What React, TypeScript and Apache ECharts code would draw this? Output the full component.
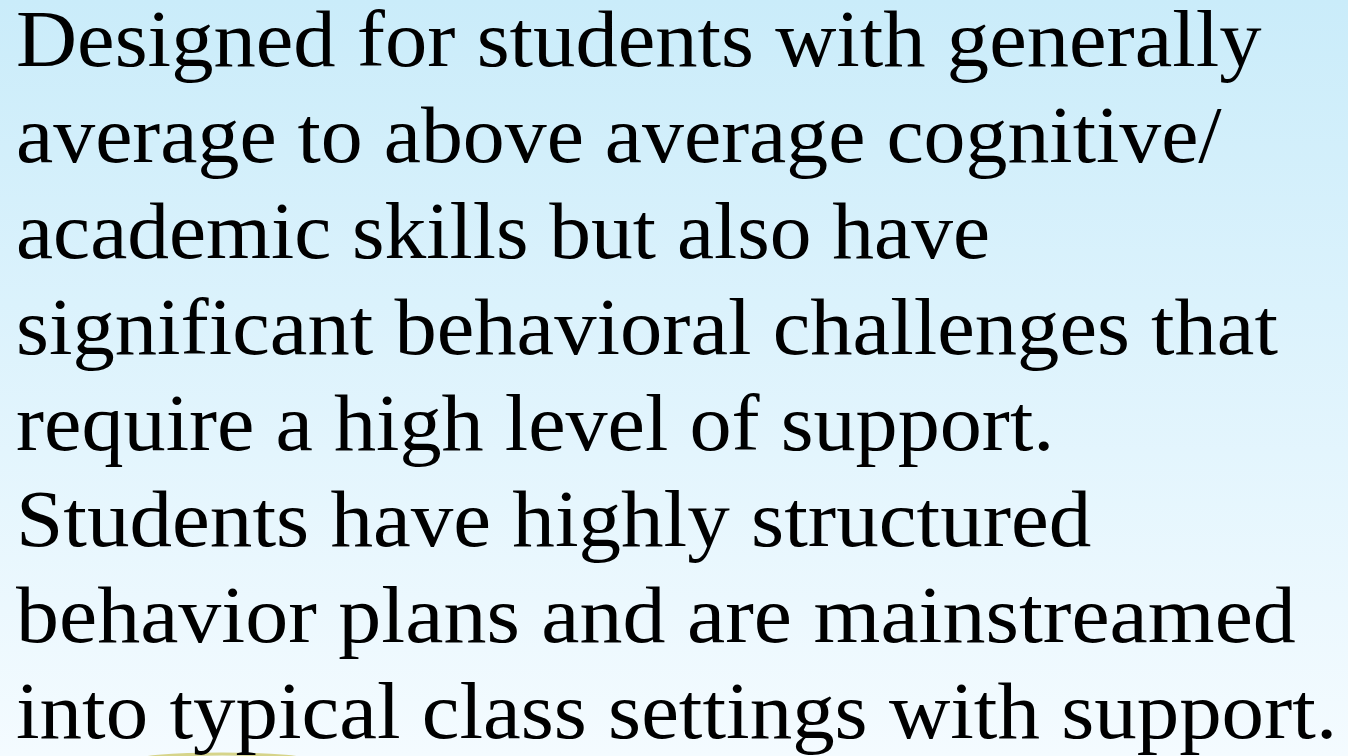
import React, { useEffect, useRef } from "react";
import * as echarts from "echarts";

const lines: string[] = [
  "Designed for students with generally",
  "average to above average cognitive/",
  "academic skills but also have",
  "significant behavioral challenges that",
  "require a high level of support.",
  "Students have highly structured",
  "behavior plans and are mainstreamed",
  "into typical class settings with support.",
];

// right edges of each line as seen in the reference (layout, not data)
const lineRightEdges: number[] = [1262, 1222, 990, 1278, 1055, 1092, 1296, 1338];

const FONT_FAMILY = "'Liberation Serif'";
const FONT_SIZE = 80;
const LEFT = 16;
const FIRST_BASELINE = 67;
const LINE_STEP = 96;

export default function App() {
  const ref = useRef<HTMLDivElement>(null);
  useEffect(() => {
    if (!ref.current) return;
    const chart = echarts.init(ref.current, undefined, { renderer: "svg" });
    const canvas = document.createElement("canvas");
    const ctx = canvas.getContext("2d")!;
    ctx.font = `${FONT_SIZE}px ${FONT_FAMILY}`;
    const texts = lines.map((t, i) => {
      const w = ctx.measureText(t).width || 1;
      const target = lineRightEdges[i] - LEFT;
      return {
        type: "text",
        x: LEFT,
        y: FIRST_BASELINE + i * LINE_STEP - 28,
        scaleX: target / w,
        style: {
          text: t,
          fill: "#000000",
          font: `${FONT_SIZE}px ${FONT_FAMILY}`,
          lineHeight: 72,
          textAlign: "left",
          textVerticalAlign: "middle",
          verticalAlign: "middle",
        },
      };
    });
    chart.setOption({
      animation: false,
      backgroundColor: {
        type: "linear",
        x: 0,
        y: 0,
        x2: 0,
        y2: 1,
        colorStops: [
          { offset: 0, color: "#CAECFA" },
          { offset: 1, color: "#F4FBFF" },
        ],
      },
      graphic: [
        {
          type: "ellipse",
          shape: { cx: 222, cy: 762, rx: 90, ry: 8 },
          style: { fill: "none", stroke: "#D6D48A", lineWidth: 3 },
        },
        ...texts,
      ],
    });
    return () => chart.dispose();
  }, []);
  return (
    <div
      ref={ref}
      style={{ position: "fixed", left: 0, top: 0, width: 1348, height: 756 }}
    />
  );
}
